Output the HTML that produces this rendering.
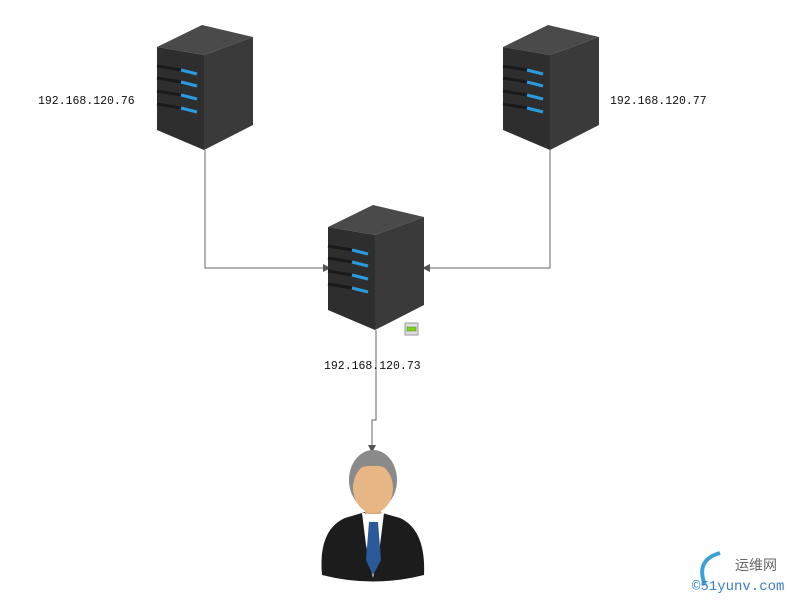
<!DOCTYPE html>
<html><head><meta charset="utf-8"><style>
body{margin:0;background:#fff;width:800px;height:600px;overflow:hidden}
svg{display:block}
text{font-family:"Liberation Mono","WenQuanYi Zen Hei",monospace;font-size:11.5px;fill:#111}
</style></head><body>
<svg width="800" height="600" viewBox="0 0 800 600">
<defs>
<g id="srv">
<polygon points="0,22 45,0 96,12 47,30" fill="#4a4a4a"/>
<polygon points="0,22 47,30 47,125 0,105" fill="#2e2e2e"/>
<polygon points="47,30 96,12 96,100 47,125" fill="#3a3a3a"/>
<g stroke="#1a1a1a" stroke-width="3">
<line x1="0" y1="41" x2="24" y2="45"/><line x1="0" y1="53" x2="24" y2="57"/>
<line x1="0" y1="66" x2="24" y2="70"/><line x1="0" y1="79" x2="24" y2="83"/>
</g>
<g stroke="#2a9be0" stroke-width="3">
<line x1="24" y1="45" x2="40" y2="49"/><line x1="24" y1="57" x2="40" y2="61"/>
<line x1="24" y1="70" x2="40" y2="74"/><line x1="24" y1="83" x2="40" y2="87"/>
</g>
</g>
<marker id="ar" markerWidth="8" markerHeight="8" refX="7" refY="4" orient="auto" markerUnits="userSpaceOnUse">
<path d="M0,0 L8,4 L0,8 z" fill="#555"/></marker>
</defs>
<g fill="none" stroke="#666" stroke-width="1">
<polyline points="205,150 205,268 330,268" marker-end="url(#ar)"/>
<polyline points="550,150 550,268 423,268" marker-end="url(#ar)"/>
<polyline points="376,330 376,420 372,420 372,452" marker-end="url(#ar)"/>
</g>
<use href="#srv" x="157" y="25"/>
<use href="#srv" x="503" y="25"/>
<use href="#srv" x="328" y="205"/>
<rect x="405" y="323" width="13" height="12" fill="#ddd" stroke="#999"/>
<rect x="407" y="327" width="9" height="4" fill="#7ed321" stroke="#4a8a10" stroke-width="0.5"/>
<text x="38" y="104">192.168.120.76</text>
<text x="610" y="104">192.168.120.77</text>
<text x="324" y="369">192.168.120.73</text>
<path d="M322,575 Q318,530 345,518 L372,510 L400,518 Q426,530 424,575 Q373,588 322,575 z" fill="#1c1c1c"/>
<polygon points="362,513 384,513 380,545 373,578 366,545" fill="#fff"/>
<polygon points="369,522 378,522 381,560 373,575 366,560" fill="#2a5a9a"/>
<rect x="365" y="498" width="16" height="16" fill="#e0a878"/>
<ellipse cx="373" cy="480" rx="24" ry="30" fill="#8a8a8a"/>
<ellipse cx="373" cy="488" rx="20" ry="25" fill="#e8b685"/>
<path d="M351,478 Q352,458 373,457 Q395,458 396,478 Q390,465 373,466 Q356,465 351,478z" fill="#8a8a8a"/>
<path d="M705,585 Q695,560 720,553" fill="none" stroke="#3aa0d8" stroke-width="4"/>
<text x="735" y="570" style="font-size:14px;fill:#666">运维网</text>
<text x="692" y="590" style="font-size:14px;fill:#3a7fc0">©51yunv.com</text>
</svg>
</body></html>
